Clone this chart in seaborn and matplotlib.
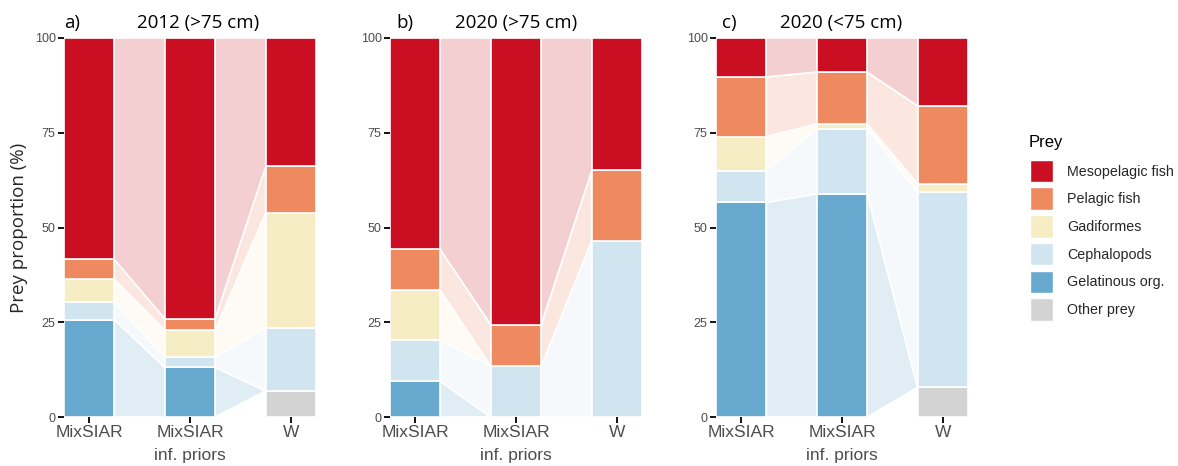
import numpy as np
import pandas as pd
import matplotlib
matplotlib.use("Agg")
import matplotlib.pyplot as plt
from matplotlib.colors import to_rgba
from matplotlib.patches import Patch
import seaborn as sns

# Diet estimation methods (x axis)
methods = ["MixSIAR", "MixSIAR\ninf. priors", "W"]

# Prey groups, top of the stack first
prey = ["Mesopelagic fish", "Pelagic fish", "Gadiformes",
        "Cephalopods", "Gelatinous org.", "Other prey"]
prey_colors = ["#CA0F22", "#EF8A60", "#F6EDC4", "#D1E5F0", "#67A9CF", "#D3D3D3"]

nan = np.nan

# a) 2012 (>75 cm): proportions (%) per method
a_meso = [58.3, 74.1, 33.7]
a_pelagic = [5.4, 3.0, 12.5]
a_gadi = [6.0, 7.1, 30.2]
a_ceph = [4.6, 2.7, 16.7]
a_gel = [25.7, 13.1, 0.0]
a_other = [nan, nan, 6.9]

# b) 2020 (>75 cm)
b_meso = [55.6, 75.8, 34.9]
b_pelagic = [11.0, 10.8, 18.7]
b_gadi = [13.2, 0.0, 0.0]
b_ceph = [10.8, 13.4, 46.4]
b_gel = [9.4, 0.0, 0.0]
b_other = [nan, nan, 0.0]

# c) 2020 (<75 cm)
c_meso = [10.3, 9.0, 17.9]
c_pelagic = [15.7, 13.7, 20.5]
c_gadi = [9.0, 1.2, 2.3]
c_ceph = [8.4, 17.2, 51.5]
c_gel = [56.6, 58.9, 0.0]
c_other = [nan, nan, 7.8]

panel_tags = ["a)", "b)", "c)"]
panel_titles = ["2012 (>75 cm)", "2020 (>75 cm)", "2020 (<75 cm)"]
panel_data = [
    [a_meso, a_pelagic, a_gadi, a_ceph, a_gel, a_other],
    [b_meso, b_pelagic, b_gadi, b_ceph, b_gel, b_other],
    [c_meso, c_pelagic, c_gadi, c_ceph, c_gel, c_other],
]

sns.set_theme(style="white")
plt.rcParams["font.family"] = ["Liberation Sans", "DejaVu Sans"]

W, H = 1178, 466
fig = plt.figure(figsize=(W / 100, H / 100), dpi=100)

ax_left_px = [64, 390, 716]
ax_w_px = 252
ax_top_px, ax_bot_px = 38, 417
title_center_px = [198, 516, 841]
tag_left_px = [64, 396, 722]

tick_grey = "#4D4D4D"
palette = dict(zip(prey, prey_colors))
half = 0.25  # half bar width (shrink=0.5)

for p, values in enumerate(panel_data):
    ax = fig.add_axes([ax_left_px[p] / W, 1 - ax_bot_px / H,
                       ax_w_px / W, (ax_bot_px - ax_top_px) / H])

    rows = []
    for name, vals in zip(prey, values):
        for m, v in zip(methods, vals):
            rows.append({"method": m, "prey": name,
                         "value": 0.0 if np.isnan(v) else v})
    df = pd.DataFrame(rows)

    sns.histplot(data=df, x="method", weights="value", hue="prey",
                 hue_order=prey, palette=palette, multiple="stack",
                 discrete=True, shrink=0.5, alpha=1, edgecolor="white",
                 linewidth=1.2, legend=False, ax=ax, zorder=3)

    # Stack limits for each prey group, bottom to top
    arr = np.array(values, dtype=float)[::-1]          # bottom first
    filled = np.nan_to_num(arr)
    highs = np.cumsum(filled, axis=0)
    lows = highs - filled
    names_bottom = prey[::-1]

    # Flows between neighbouring bars
    for j in range(len(methods) - 1):
        x0, x1 = j + half, j + 1 - half
        for k, name in enumerate(names_bottom):
            v0, v1 = arr[k, j], arr[k, j + 1]
            if np.isnan(v0) or np.isnan(v1) or (v0 == 0 and v1 == 0):
                continue
            ax.fill([x0, x0, x1, x1],
                    [lows[k, j], highs[k, j], highs[k, j + 1], lows[k, j + 1]],
                    facecolor=to_rgba(palette[name], 0.2),
                    edgecolor="white", linewidth=1.2, zorder=2)

    ax.set_xlim(-half, len(methods) - 1 + half)
    ax.set_ylim(0, 100)
    ax.set_yticks([0, 25, 50, 75, 100])
    ax.set_xticks(range(len(methods)))
    ax.set_xticklabels(methods, fontsize=12.5, color=tick_grey,
                       linespacing=1.65)
    ax.tick_params(axis="y", labelsize=9, labelcolor=tick_grey,
                   length=4, width=1.3, color="black", pad=2, left=True)
    ax.tick_params(axis="x", length=4, width=1.3, color="black", pad=2,
                   bottom=True)
    for s in ax.spines.values():
        s.set_visible(False)
    ax.set_xlabel("")
    if p == 0:
        ax.set_ylabel("Prey proportion (%)", fontsize=13.5,
                      family=["Open Sans", "DejaVu Sans"], labelpad=5)
    else:
        ax.set_ylabel("")
    ax.grid(False)

    # Panel tag and title
    ax.text((tag_left_px[p] - ax_left_px[p]) / ax_w_px, 1.027, panel_tags[p],
            transform=ax.transAxes, ha="left", va="baseline", fontsize=13.5,
            family=["Open Sans", "DejaVu Sans"], color="black")
    ax.text((title_center_px[p] - ax_left_px[p]) / ax_w_px, 1.027,
            panel_titles[p], transform=ax.transAxes, ha="center",
            va="baseline", fontsize=13.5,
            family=["Open Sans", "DejaVu Sans"], color="black")

# Legend: title drawn separately, entries below it
fig.text(1029 / W, 1 - 142 / H, "Prey", ha="left", va="center",
         fontsize=12, color="black")
handles = [Patch(facecolor=c, edgecolor="white", linewidth=1.0)
           for c in prey_colors]
leg = fig.legend(handles, prey, loc="upper left",
                 bbox_to_anchor=(1024 / W, 1 - 154 / H), frameon=False,
                 fontsize=10.3, handlelength=1.6,
                 handleheight=2.05, labelspacing=0.36, handletextpad=1.0,
                 borderaxespad=0)

fig.savefig("out.png", dpi=100)
